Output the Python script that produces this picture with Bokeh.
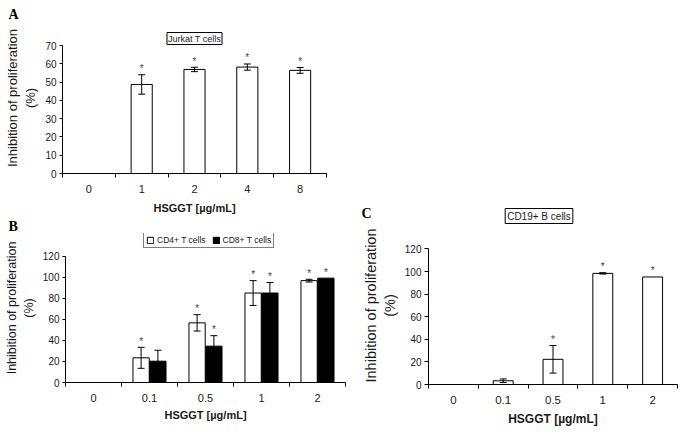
from bokeh.plotting import figure
from bokeh.models import (Range1d, FixedTicker, Whisker, TeeHead, ColumnDataSource,
                          Label, Legend, LegendItem)
from bokeh.layouts import row, column
from bokeh.core.properties import value
from bokeh.embed import file_html
from bokeh.resources import INLINE

# ---------------- data ----------------
a_doses = ["0", "1", "2", "4", "8"]
a_jurkat = [0, 48.7, 56.9, 58.2, 56.4]
a_jurkat_err = [0, 5.3, 1.2, 1.7, 1.6]
a_star = [False, True, True, True, True]

b_doses = ["0", "0.1", "0.5", "1", "2"]
b_cd4 = [0, 23.5, 56.8, 85.2, 97.0]
b_cd4_err = [0, 10.0, 7.8, 11.8, 1.3]
b_cd8 = [0, 20.3, 34.6, 85.2, 99.4]
b_cd8_err = [0, 10.4, 10.0, 10.0, 0]
b_cd4_star = [False, True, True, True, True]
b_cd8_star = [False, False, True, True, True]

c_doses = ["0", "0.1", "0.5", "1", "2"]
c_cd19 = [0, 3.3, 22.3, 98.4, 95.2]
c_cd19_err = [0, 1.6, 12.2, 0.6, 0]
c_star = [False, False, True, True, True]

x_title = "HSGGT [µg/mL]"
y_title = "Inhibition of proliferation\n(%)"

SANS = "Liberation Sans"
SERIF = "Liberation Serif"
TXT = "#1a1a1a"


def make_fig(w, h, ml, mr, mt, mb, ytop, yaxis_max, ystep, cats,
             ytick_fs, xtick_fs, ylab_fs, xlab_fs, xlab_standoff, ytick_out):
    n = len(cats)
    p = figure(width=w, height=h, x_range=Range1d(-0.5, n - 0.5),
               y_range=Range1d(0, ytop), output_backend="svg",
               toolbar_location=None, min_border_left=ml, min_border_right=mr,
               min_border_top=mt, min_border_bottom=mb, frame_align=False)
    p.outline_line_color = None
    p.xgrid.visible = False
    p.ygrid.visible = False
    xs = list(range(n))
    xa = p.xaxis[0]
    xa.ticker = FixedTicker(ticks=xs, minor_ticks=[i - 0.5 for i in range(n + 1)])
    xa.major_label_overrides = {i: c for i, c in zip(xs, cats)}
    xa.major_tick_line_color = None
    xa.major_tick_out = 4
    xa.major_tick_in = 0
    xa.minor_tick_out = 4
    xa.minor_tick_in = 0
    xa.minor_tick_line_color = "black"
    xa.major_label_standoff = 7
    xa.major_label_text_font = SANS
    xa.major_label_text_font_size = xtick_fs
    xa.major_label_text_color = TXT
    xa.axis_line_color = "black"
    xa.axis_label = x_title
    xa.axis_label_text_font = SANS
    xa.axis_label_text_font_style = "bold"
    xa.axis_label_text_font_size = xlab_fs
    xa.axis_label_text_color = TXT
    xa.axis_label_standoff = xlab_standoff

    ya = p.yaxis[0]
    ya.ticker = FixedTicker(ticks=list(range(0, yaxis_max + 1, ystep)))
    ya.bounds = (0, yaxis_max)
    ya.major_tick_out = ytick_out
    ya.major_tick_in = 0
    ya.major_tick_line_color = "black"
    ya.minor_tick_line_color = None
    ya.major_label_standoff = 3
    ya.major_label_text_font = SANS
    ya.major_label_text_font_size = ytick_fs
    ya.major_label_text_color = TXT
    ya.axis_line_color = "black"
    ya.axis_label = y_title
    ya.axis_label_text_font = SANS
    ya.axis_label_text_font_style = "normal"
    ya.axis_label_text_font_size = ylab_fs
    ya.axis_label_text_color = TXT
    ya.axis_label_standoff = 4
    return p


def header(w, h):
    p = figure(width=w, height=h, x_range=Range1d(0, w), y_range=Range1d(0, h),
               output_backend="svg", toolbar_location=None,
               x_axis_location=None, y_axis_location=None, min_border=0,
               frame_align=False)
    p.outline_line_color = None
    p.grid.visible = False
    return p


def add_series(p, vals, errs, stars, offset, width, fill):
    xs = [i + offset for i, v in enumerate(vals) if v > 0]
    tops = [v for v in vals if v > 0]
    r = p.vbar(x=xs, top=tops, width=width, bottom=0, fill_color=fill,
               line_color="black", line_width=1)
    wx = [i + offset for i, e in enumerate(errs) if e > 0]
    wu = [vals[i] + e for i, e in enumerate(errs) if e > 0]
    wl = [vals[i] - e for i, e in enumerate(errs) if e > 0]
    if wx:
        src = ColumnDataSource(dict(x=wx, upper=wu, lower=wl))
        wh = Whisker(source=src, base="x", upper="upper", lower="lower",
                     line_color="black", line_width=1,
                     upper_head=TeeHead(size=7, line_color="black", line_width=1),
                     lower_head=TeeHead(size=7, line_color="black", line_width=1),
                     level="overlay")
        p.add_layout(wh)
    sx = [i + offset for i, s in enumerate(stars) if s]
    sy = [vals[i] + errs[i] for i, s in enumerate(stars) if s]
    p.text(x=sx, y=sy, text=["*"] * len(sx), text_align="center",
           text_baseline="alphabetic", y_offset=-6, text_font=value(SANS),
           text_font_size="10px", text_color="#444444")
    return r


def box_label(p, text, x, y, fs, x_units="screen", pad=2):
    lab = Label(x=x, y=y, x_units=x_units, y_units="screen", text=text,
                text_align="center", text_baseline="middle",
                text_font=SANS, text_font_size=fs, text_color=TXT,
                border_line_color="black", border_line_width=1,
                background_fill_color="white", padding=pad)
    p.add_layout(lab)


def letter(p, text, x, y):
    p.add_layout(Label(x=x, y=y, x_units="screen", y_units="screen", text=text,
                       text_align="left", text_baseline="alphabetic",
                       text_font=SERIF, text_font_style="bold",
                       text_font_size="14px", text_color="black"))


# ---------------- panel A ----------------
hA = header(352, 22)
letter(hA, "A", 8, 8)

pA = make_fig(352, 198, 62, 26, 0, 47, 82.58, 70, 10, a_doses,
              "10px", "11px", "13px", "11px", 6, 3)
add_series(pA, a_jurkat, a_jurkat_err, a_star, 0, 0.4, "white")
box_label(pA, "Jurkat T cells", 2, 135, "9px", x_units="data", pad=1)

# ---------------- panel B ----------------
hB = header(352, 13)
letter(hB, "B", 8, 7.5)

pB = make_fig(352, 201, 65, 7, 0, 52, 141.9, 120, 20, b_doses,
              "10px", "11px", "12.5px", "11px", 4, 3)
r4 = add_series(pB, b_cd4, b_cd4_err, b_cd4_star, -0.15, 0.29, "white")
r8 = add_series(pB, b_cd8, b_cd8_err, b_cd8_star, 0.15, 0.29, "black")
leg = Legend(items=[LegendItem(label="CD4+ T cells", renderers=[r4]),
                    LegendItem(label="CD8+ T cells", renderers=[r8])],
             location=(78, 134.5), orientation="horizontal",
             glyph_width=8, glyph_height=8, label_height=9, label_width=10,
             label_standoff=3, spacing=6, padding=2, margin=0,
             label_text_font=SANS, label_text_font_size="8.5px",
             label_text_color=TXT, border_line_color="black",
             border_line_width=1, background_fill_color="white",
             background_fill_alpha=1)
pB.add_layout(leg)

# ---------------- panel C ----------------
hC = header(331, 226)
letter(hC, "C", 9, 13)
box_label(hC, "CD19+ B cells", 186.5, 10.5, "10px", pad=2)

pC = make_fig(331, 208, 76, 6, 0, 50, 139.9, 120, 20, c_doses,
              "10px", "11.5px", "14.5px", "12px", 5, 4)
add_series(pC, c_cd19, c_cd19_err, c_star, 0, 0.4, "white")

layout = row(column(hA, pA, hB, pB), column(hC, pC))

open("out.html", "w").write(file_html(layout, INLINE))
